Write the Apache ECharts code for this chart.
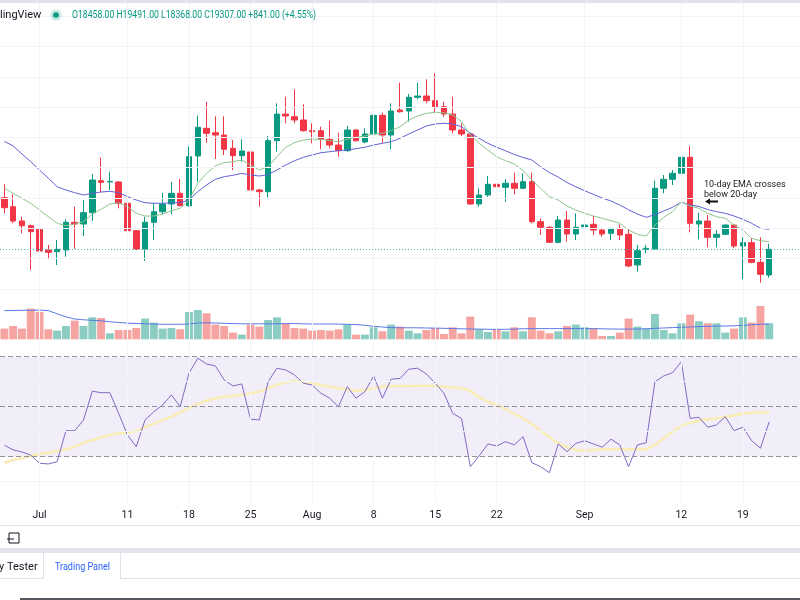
<!DOCTYPE html>
<html><head><meta charset="utf-8">
<script src="https://cdn.jsdelivr.net/npm/echarts@6/dist/echarts.min.js"></script>
<style>html,body{margin:0;padding:0;background:#fff;overflow:hidden}#c{width:800px;height:600px}</style>
</head><body><div id="c"></div>
<script>
const dates = [
'2022-06-27','2022-06-28','2022-06-29','2022-06-30',
'2022-07-01','2022-07-02','2022-07-03','2022-07-04','2022-07-05','2022-07-06','2022-07-07','2022-07-08','2022-07-09','2022-07-10',
'2022-07-11','2022-07-12','2022-07-13','2022-07-14','2022-07-15','2022-07-16','2022-07-17','2022-07-18','2022-07-19','2022-07-20',
'2022-07-21','2022-07-22','2022-07-23','2022-07-24','2022-07-25','2022-07-26','2022-07-27','2022-07-28','2022-07-29','2022-07-30','2022-07-31',
'2022-08-01','2022-08-02','2022-08-03','2022-08-04','2022-08-05','2022-08-06','2022-08-07','2022-08-08','2022-08-09','2022-08-10',
'2022-08-11','2022-08-12','2022-08-13','2022-08-14','2022-08-15','2022-08-16','2022-08-17','2022-08-18','2022-08-19','2022-08-20',
'2022-08-21','2022-08-22','2022-08-23','2022-08-24','2022-08-25','2022-08-26','2022-08-27','2022-08-28','2022-08-29','2022-08-30','2022-08-31',
'2022-09-01','2022-09-02','2022-09-03','2022-09-04','2022-09-05','2022-09-06','2022-09-07','2022-09-08','2022-09-09','2022-09-10',
'2022-09-11','2022-09-12','2022-09-13','2022-09-14','2022-09-15','2022-09-16','2022-09-17','2022-09-18','2022-09-19','2022-09-20',
'2022-09-21','2022-09-22','2022-09-23','2022-09-24','2022-09-25'];

const tickDates = ['2022-07-01','2022-07-11','2022-07-18','2022-07-25','2022-08-01','2022-08-08','2022-08-15','2022-08-22','2022-09-01','2022-09-12','2022-09-19'];
const tickLabels = ['Jul','11','18','25','Aug','8','15','22','Sep','12','19'];

const opens = [21010,20713,20240,20086,19967,19284,19228,19284,20198,20142,
20515,21571,21530,21528,20825,19921,19317,20198,20548,20802,
21155,20746,22386,23300,23155,23079,22640,22396,22518,21264,
21208,22891,23768,23684,23574,23221,23221,22937,22749,22561,
23244,22848,23112,23729,23079,23904,23871,24323,24366,24211,
24013,23772,23244,23112,20802,21099,21452,21353,21485,21320,
21538,20218,20033,19538,20274,19812,20053,20132,19944,19835,
19999,19802,18789,19307,19317,21320,21617,21815,22343,20142,
20241,19703,19802,20109,19416,19525,18878,18458];
const closes = [20680,20240,20086,19888,19251,19208,19307,20198,20142,20515,
21594,21518,21548,20825,19921,19317,20198,20548,20802,21155,
20746,22363,23333,23135,23079,22607,22396,22551,21264,21208,
22891,23768,23706,23574,23221,23188,22937,22749,22561,23244,
22891,23112,23729,23079,23871,23848,24323,24366,24211,24013,
23772,23244,23112,20802,21099,21452,21373,21485,21320,21538,
20218,20033,19538,20274,19812,20033,20109,19944,19812,19999,
19779,18756,19261,19340,21320,21617,21815,22343,20165,20241,
19703,19802,20109,19416,19525,18878,18482,19307];
const highs = [21460,21122,20383,20120,20878,19449,19614,20297,20713,20934,
21792,22343,21868,21560,20878,19944,20383,20845,21175,21538,
21627,22693,23718,24178,23696,23696,22914,22937,22584,21300,
23046,24125,24343,24587,24092,23465,23353,23551,23155,23386,
23277,23300,24145,23815,24125,24805,24432,24805,24917,25115,
24178,24343,23465,23150,21320,21726,21594,21617,21835,21815,
21835,20330,20075,20406,20571,20495,20132,20406,19999,20010,
20132,19967,19449,19449,21571,21759,21924,22452,22716,20515,
20439,19944,20132,20109,19703,19670,19703,19491];
const lows = [20495,20165,19835,18624,18954,18977,18789,19063,19317,19746,
20251,21188,21264,20660,19880,19284,18921,19614,20462,20462,
20720,20713,21538,22825,22287,22419,21924,22198,21208,20713,
21023,22528,23465,23465,23188,22805,22607,22640,22363,22528,
22858,22805,23046,22825,22607,23815,23518,24257,24125,23795,
23683,23135,23046,20780,20713,21043,20878,20878,21122,21287,
20165,19779,19515,19505,19558,19614,19591,19779,19723,19614,
19614,18713,18568,19175,19300,21155,21429,21538,19868,19637,
19373,19373,19779,19340,18317,18845,18205,18368];

const ema10 = [21320,21155,20990,20825,20604,20383,20165,20086,20142,20218,
20472,20627,20802,20845,20713,20495,20406,20406,20472,20581,
20660,20934,21485,21815,22056,22165,22198,22254,22089,21924,
22033,22363,22673,22825,22914,22937,22937,22891,22858,22937,
23003,23046,23112,23135,23221,23353,23574,23706,23795,23828,
23815,23739,23518,23079,22805,22584,22363,22231,22122,21907,
21594,21320,21043,20934,20736,20604,20495,20406,20330,20251,
20165,19944,19802,19746,20109,20363,20548,20878,20736,20660,
20495,20383,20330,20109,19944,19670,19591,19558];
const ema20 = [22871,22716,22452,22198,21924,21650,21373,21264,21175,21099,
21155,21198,21221,21175,21043,20934,20845,20825,20825,20845,
20845,20934,21208,21429,21617,21703,21749,21815,21759,21726,
21775,21924,22089,22231,22343,22419,22495,22528,22561,22584,
22627,22673,22749,22805,22858,22970,23112,23244,23376,23442,
23465,23442,23353,23135,22970,22805,22673,22561,22435,22336,
22254,22033,21840,21690,21510,21370,21240,21120,21000,20900,
20770,20610,20470,20363,20450,20571,20693,20860,20769,20720,
20620,20548,20495,20406,20297,20165,20000,19967];

const volumes = [10.7,13.3,10.7,30.7,27.3,10,8.7,13.3,18.7,13.3,
22,21.3,6,9.3,9.3,11.3,20.7,16.7,10.7,11.3,
10,27.3,29.3,26,14.7,13.3,6.7,4.7,14.7,12.7,
19.3,22,16,11.3,10.7,8.7,9.3,8.7,10,14.7,
4.7,4.7,12,8,14.7,12.7,8.7,6,9.3,11.3,
5.3,12,6,22.7,10,7.3,10,8,12,8,
22,8.7,6,8,13.3,14.7,12,10.7,3.3,3.3,
6.7,20.7,12.7,10.7,25.3,9.3,6,16,24.7,18,
16,16,6.7,10.7,22,16.7,33.3,16];
const volumeMA = [28.7,28.8,29,29,29.2,28.7,25.5,22.5,20.3,19.5,
19,18.5,17.5,16.8,16.2,15.8,15.5,15.2,15,15,
15,15.3,16.3,16.5,16.3,16,15.7,15.5,15.5,15.5,
15.5,15.5,15.7,15.7,15.5,15.3,15.3,15.3,15.2,15,
14.7,14,13,12.3,11.7,11.5,11.5,11.5,11.3,11.2,
11,10.8,10.5,10.3,10.2,10,10,10,10.2,10.5,
10.7,10.7,10.7,10.7,10.7,10.7,10.7,10.7,10.5,10.3,
10.2,10.2,10.3,10.5,11,11.3,11.7,12,12.3,12.7,
13,13.2,13.3,13.5,14,14.5,15,15.3];

const rsi = [34.6,32.7,31.9,30.6,27.4,27.1,28,40.4,40.4,44.7,
56.2,55.6,55.6,47.3,38.7,34,44.7,48,50.7,54.7,
50,63.4,69.4,67.1,66.3,60.7,58.3,59.1,45,44.7,
60,65.4,64.7,62.7,59.4,58.7,55.4,53.4,50,58,
53.4,56,62.3,53.4,61,61.3,65,65.4,63.1,59.4,
55.4,47.3,45.3,26,30.3,35.1,34.3,36,34.7,38,
27.6,26,23.6,35.1,32,35.3,36.4,35.1,33.8,37,
34.7,26,34.7,35.6,60,62.3,63.6,68,45.3,45.8,
41.8,42.7,46,40.4,41.8,36.4,33.4,44];
const rsiMA = [27.6,28.7,29.4,30.3,31.1,31.6,32.2,33,34,35.4,
36.7,37.8,38.7,39.4,39.6,40.4,41.8,43.1,44.7,46,
47.6,49.4,51.1,52.4,53.4,54,54.3,54.7,55.4,56,
57.4,58.7,59.8,60.4,60,59.4,58.7,58,57.4,56.9,
56.4,56.7,57.4,58,58.3,58.3,58.3,58.4,58.4,58.3,
58,57.7,57.4,56.4,53.7,52,50.7,49,47.1,45.3,
43.1,40.4,37.8,35.4,33.8,32.7,32.4,32.7,33,33,
33.1,33,33,33,34.7,37.4,40,42.3,43.6,44.4,
45,45.3,46,46.5,47.3,47.6,47.9,47.6];

const priceGridLevels = [18000,19000,20000,21000,22000,23000,24000,25000,26000,27000];
const rsiGridLevels = [20,40,60];
const rsiBands = [30,50,70];
const lastPrice = 19307;
const legendText = 'O18458.00 H19491.00 L18368.00 C19307.00 +841.00 (+4.55%)';

const UP = '#089981', DOWN = '#f23645';
const candleData = opens.map((o, i) => [o, closes[i], lows[i], highs[i]]);
const isUp = i => closes[i] >= opens[i];

const gridColor = '#f3f4f8';
const vLines = tickDates.map(d => ({ xAxis: d }));

function measure(text, font) {
  const c = document.createElement('canvas').getContext('2d');
  c.font = font; return c.measureText(text).width;
}
const legendFont = '10px Roboto';
const legendScale = 244 / measure(legendText, legendFont);
const tabFont = '11px Roboto';
const tabScale = 55 / measure('Trading Panel', tabFont);

const chart = echarts.init(document.getElementById('c'), null, { renderer: 'canvas' });
const xBase = { type: 'category', data: dates, boundaryGap: true, show: false };
const option = {
  animation: false,
  backgroundColor: '#ffffff',
  grid: [
    { left: 0, right: -3, top: 3, height: 342 },
    { left: 0, right: -3, top: 279.3, height: 60 },
    { left: 0, right: -3, top: 346, height: 157 }
  ],
  xAxis: [
    Object.assign({ gridIndex: 0 }, xBase),
    Object.assign({ gridIndex: 1 }, xBase),
    {
      gridIndex: 2, type: 'category', data: dates, boundaryGap: true, show: true,
      axisLine: { show: false }, axisTick: { show: false }, splitLine: { show: false },
      axisLabel: {
        interval: (idx, val) => tickDates.indexOf(val) >= 0,
        formatter: val => tickLabels[tickDates.indexOf(val)],
        color: '#131722', fontSize: 10.5, fontFamily: 'Roboto', margin: 7
      }
    }
  ],
  yAxis: [
    { gridIndex: 0, type: 'value', min: 16149, max: 27435, show: false, splitLine: { show: false } },
    { gridIndex: 1, type: 'value', min: 0, max: 60, show: false, splitLine: { show: false } },
    { gridIndex: 2, type: 'value', min: 11.48, max: 74.28, show: false, splitLine: { show: false } }
  ],
  series: [
    {
      type: 'line', xAxisIndex: 0, yAxisIndex: 0, data: [], silent: true, z: 0,
      markLine: { silent: true, symbol: 'none', label: { show: false },
        lineStyle: { color: gridColor, width: 1, type: 'solid' },
        data: vLines.concat(priceGridLevels.map(v => ({ yAxis: v }))) }
    },
    {
      type: 'line', xAxisIndex: 2, yAxisIndex: 2, data: [], silent: true, z: 0,
      markArea: { silent: true, itemStyle: { color: 'rgba(126,87,194,0.1)' },
        data: [[{ yAxis: rsiBands[0] }, { yAxis: rsiBands[2] }]] },
      markLine: { silent: true, symbol: 'none', label: { show: false },
        lineStyle: { color: gridColor, width: 1, type: 'solid' },
        data: vLines.concat(rsiGridLevels.map(v => ({ yAxis: v }))) }
    },
    {
      type: 'line', xAxisIndex: 2, yAxisIndex: 2, data: [], silent: true, z: 1,
      markLine: { silent: true, symbol: 'none', label: { show: false },
        lineStyle: { color: '#8f919c', width: 1, type: [5, 3] },
        data: rsiBands.map(v => ({ yAxis: v })) }
    },
    {
      name: 'Volume', type: 'bar', xAxisIndex: 1, yAxisIndex: 1, z: 1,
      data: volumes, barCategoryGap: '10%',
      itemStyle: { color: p => isUp(p.dataIndex) ? '#8ccdc3' : '#f6a4a1' }
    },
    {
      name: 'Volume MA', type: 'line', xAxisIndex: 1, yAxisIndex: 1, z: 2,
      data: volumeMA, symbol: 'none', lineStyle: { color: '#5b78e6', width: 1 }
    },
    {
      name: 'BTCUSD', type: 'candlestick', xAxisIndex: 0, yAxisIndex: 0, z: 3,
      data: candleData, barWidth: 6,
      itemStyle: { color: UP, color0: DOWN, borderColor: UP, borderColor0: DOWN, borderWidth: 1 },
      markLine: { silent: true, symbol: 'none', label: { show: false },
        lineStyle: { color: '#3bb3a0', width: 1, type: [1, 2] },
        data: [{ yAxis: lastPrice }] }
    },
    {
      name: 'EMA 20', type: 'line', xAxisIndex: 0, yAxisIndex: 0, z: 4,
      data: ema20, symbol: 'none', lineStyle: { color: '#6261d8', width: 1 }
    },
    {
      name: 'EMA 10', type: 'line', xAxisIndex: 0, yAxisIndex: 0, z: 4,
      data: ema10, symbol: 'none', lineStyle: { color: '#8cc68c', width: 1 }
    },
    {
      name: 'RSI MA', type: 'line', xAxisIndex: 2, yAxisIndex: 2, z: 3,
      data: rsiMA, symbol: 'none', lineStyle: { color: '#f9ecb4', width: 2.5 }
    },
    {
      name: 'RSI', type: 'line', xAxisIndex: 2, yAxisIndex: 2, z: 4,
      data: rsi, symbol: 'none', lineStyle: { color: '#7e6bc4', width: 1 }
    }
  ],
  graphic: [
    { type: 'rect', shape: { x: 0, y: 0, width: 800, height: 3 }, style: { fill: '#e0e3eb' }, z: 10 },
    { type: 'text', x: 0, y: 15, z: 10, style: { text: 'lingView', font: '11px Roboto', fill: '#131722', textAlign: 'left', textVerticalAlign: 'middle' } },
    { type: 'circle', shape: { cx: 56, cy: 15, r: 5.5 }, style: { fill: 'rgba(8,153,129,0.22)' }, z: 10 },
    { type: 'circle', shape: { cx: 56, cy: 15, r: 2.8 }, style: { fill: UP }, z: 10 },
    { type: 'text', x: 72, y: 15, scaleX: legendScale, z: 10, style: { text: legendText, font: legendFont, fill: UP, textAlign: 'left', textVerticalAlign: 'middle' } },
    { type: 'text', x: 704, y: 185, z: 10, style: { text: '10-day EMA crosses', font: '9px Roboto', fill: '#1a1a1a', textAlign: 'left', textVerticalAlign: 'middle' } },
    { type: 'text', x: 704, y: 194.5, z: 10, style: { text: 'below 20-day', font: '9px Roboto', fill: '#1a1a1a', textAlign: 'left', textVerticalAlign: 'middle' } },
    { type: 'line', shape: { x1: 709, y1: 201.5, x2: 718, y2: 201.5 }, style: { stroke: '#111', lineWidth: 2 }, z: 10 },
    { type: 'polygon', shape: { points: [[705, 201.5], [710, 198.5], [710, 204.5]] }, style: { fill: '#111' }, z: 10 },
    { type: 'rect', shape: { x: 0, y: 525, width: 800, height: 1 }, style: { fill: '#e0e3eb' }, z: 10 },
    { type: 'rect', shape: { x: 9, y: 533, width: 10, height: 10 }, style: { fill: 'none', stroke: '#131722', lineWidth: 1 }, z: 10 },
    { type: 'line', shape: { x1: 7, y1: 539, x2: 14, y2: 539 }, style: { stroke: '#131722', lineWidth: 1 }, z: 10 },
    { type: 'rect', shape: { x: 0, y: 548, width: 800, height: 5 }, style: { fill: '#e0e3eb' }, z: 10 },
    { type: 'text', x: -1, y: 567, z: 10, style: { text: 'y Tester', font: tabFont, fill: '#131722', textAlign: 'left', textVerticalAlign: 'middle' } },
    { type: 'rect', shape: { x: 43, y: 553, width: 1, height: 25 }, style: { fill: '#e0e3eb' }, z: 10 },
    { type: 'text', x: 55, y: 567, scaleX: tabScale, z: 10, style: { text: 'Trading Panel', font: tabFont, fill: '#2962ff', textAlign: 'left', textVerticalAlign: 'middle' } },
    { type: 'rect', shape: { x: 120, y: 553, width: 1, height: 25 }, style: { fill: '#e0e3eb' }, z: 10 },
    { type: 'rect', shape: { x: 0, y: 578, width: 44, height: 1 }, style: { fill: '#e0e3eb' }, z: 10 },
    { type: 'rect', shape: { x: 120, y: 578, width: 680, height: 1 }, style: { fill: '#e0e3eb' }, z: 10 },
    { type: 'rect', shape: { x: 20, y: 598, width: 780, height: 2 }, style: { fill: '#55585f' }, z: 10 }
  ]
};
chart.setOption(option);
</script></body></html>
